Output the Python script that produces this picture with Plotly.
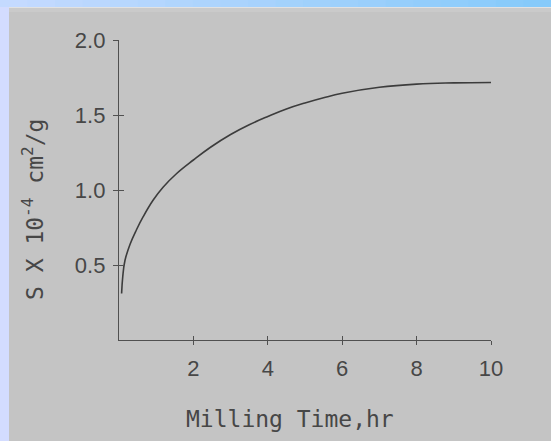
import plotly.graph_objects as go

# ---- data ----
milling_time_hr = [0.07, 0.10, 0.16, 0.30, 0.47, 0.65, 0.92, 1.19, 1.55, 2.00,
                   2.46, 3.00, 3.50, 4.00, 4.50, 5.00, 5.50, 6.00, 7.00, 8.00,
                   9.00, 10.00]
surface_area = [0.31, 0.42, 0.53, 0.64, 0.735, 0.822, 0.933, 1.02, 1.11, 1.20,
                1.285, 1.37, 1.435, 1.49, 1.54, 1.58, 1.615, 1.645, 1.685, 1.706,
                1.714, 1.717]
x_tick_vals = [2, 4, 6, 8, 10]
x_tick_text = ["2", "4", "6", "8", "10"]
y_tick_vals = [0.5, 1.0, 1.5, 2.0]
y_tick_text = ["0.5", "1.0", "1.5", "2.0"]
x_title = "Milling Time,hr"
y_title = "S X 10<sup>-4</sup> cm<sup>2</sup>/g"

W, H = 551, 441
L, R, T, B = 119, 60, 40, 101
PW, PH = W - L - R, H - T - B

def px_to_paper_x(px):
    return (px - L) / PW

def py_to_paper_y(py):
    return (H - B - py) / PH

TEXT = "#474747"
LINE = "#505050"
PANEL = "#c4c4c4"
FONT = "Liberation Sans"

fig = go.Figure()
fig.add_trace(go.Scatter(
    x=milling_time_hr, y=surface_area, mode="lines",
    line=dict(color="#3c3c3c", width=1.6, shape="spline", smoothing=1.2),
    hoverinfo="skip", showlegend=False,
))
# invisible copy bound to the overlay axes (inner half of the tick marks)
fig.add_trace(go.Scatter(x=milling_time_hr, y=surface_area, xaxis="x2", yaxis="y2",
                         mode="lines", line=dict(width=0.1, color="rgba(0,0,0,0)"),
                         hoverinfo="skip", showlegend=False))

shapes = []
shapes.append(dict(type="rect", xref="paper", yref="paper", layer="below",
                   x0=px_to_paper_x(0), x1=px_to_paper_x(9),
                   y0=py_to_paper_y(H), y1=py_to_paper_y(0),
                   fillcolor="#d3dcff", line=dict(width=0)))
c0 = (196, 218, 255)
c1 = (134, 202, 250)
n = 20
for i in range(n):
    t = i / (n - 1)
    col = tuple(round(c0[k] + (c1[k] - c0[k]) * t) for k in range(3))
    shapes.append(dict(type="rect", xref="paper", yref="paper", layer="below",
                       x0=px_to_paper_x(W * i / n), x1=px_to_paper_x(W * (i + 1) / n + 1),
                       y0=py_to_paper_y(7), y1=py_to_paper_y(0),
                       fillcolor="rgb(%d,%d,%d)" % col, line=dict(width=0)))
shapes.append(dict(type="line", xref="paper", yref="paper", layer="below",
                   x0=px_to_paper_x(9), x1=px_to_paper_x(W),
                   y0=py_to_paper_y(7.5), y1=py_to_paper_y(7.5),
                   line=dict(color="#e2e2e2", width=1)))
shapes.append(dict(type="rect", xref="paper", yref="paper", layer="below",
                   x0=px_to_paper_x(9), x1=px_to_paper_x(W),
                   y0=py_to_paper_y(12), y1=py_to_paper_y(8),
                   fillcolor="#cacaca", line=dict(width=0)))

annotations = [
    dict(text=x_title, xref="paper", yref="paper",
         x=px_to_paper_x(290), y=py_to_paper_y(419), xanchor="center", yanchor="middle",
         showarrow=False, font=dict(family="DejaVu Sans Mono", size=23, color=TEXT)),
    dict(text=y_title, xref="paper", yref="paper", textangle=-90,
         x=px_to_paper_x(33), y=py_to_paper_y(210), xanchor="center", yanchor="middle",
         showarrow=False, font=dict(family="DejaVu Sans Mono", size=23, color=TEXT)),
]

fig.update_layout(
    width=W, height=H,
    margin=dict(l=L, r=R, t=T, b=B, pad=0),
    paper_bgcolor=PANEL, plot_bgcolor="rgba(0,0,0,0)",
    showlegend=False,
    shapes=shapes, annotations=annotations,
    xaxis=dict(range=[0, 10], showgrid=False, zeroline=False, showline=True,
               linecolor=LINE, linewidth=1.3, tickvals=x_tick_vals, ticktext=x_tick_text,
               ticks="outside", ticklen=4, tickwidth=1.3, tickcolor=LINE,
               tickfont=dict(family=FONT, size=22, color=TEXT), ticklabelstandoff=4),
    yaxis=dict(range=[0, 2.0], showgrid=False, zeroline=False, showline=True,
               linecolor=LINE, linewidth=1.3, tickvals=y_tick_vals, ticktext=y_tick_text,
               ticks="outside", ticklen=5, tickwidth=1.3, tickcolor=LINE,
               tickfont=dict(family=FONT, size=22, color=TEXT), ticklabelstandoff=3),
    xaxis2=dict(range=[0, 10], overlaying="x", anchor="y2", side="bottom",
                showgrid=False, zeroline=False, showline=False,
                tickvals=x_tick_vals, showticklabels=False,
                ticks="inside", ticklen=4, tickwidth=1.3, tickcolor=LINE),
    yaxis2=dict(range=[0, 2.0], overlaying="y", anchor="x2", side="left",
                showgrid=False, zeroline=False, showline=False,
                tickvals=[0.5, 1.0, 1.5], showticklabels=False,
                ticks="inside", ticklen=5, tickwidth=1.3, tickcolor=LINE),
)

fig.write_html("out.html")
